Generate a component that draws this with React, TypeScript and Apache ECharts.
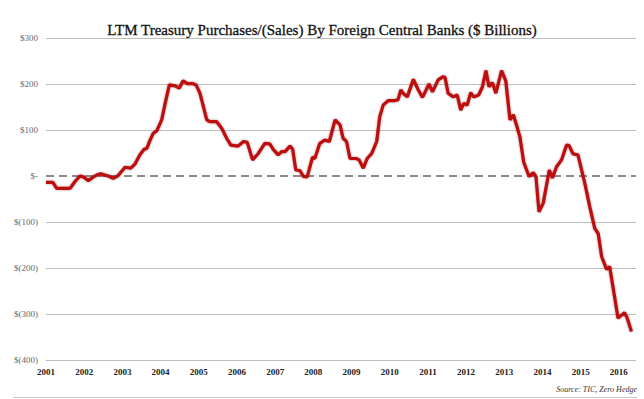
import React, { useEffect, useRef } from "react";
import * as echarts from "echarts";

const titleText = "LTM Treasury Purchases/(Sales) By Foreign Central Banks ($ Billions)";
const sourceText = "Source: TIC, Zero Hedge";

// decimal-year positions of the readings
const dates = [
  2001.0, 2001.18, 2001.28, 2001.45, 2001.63, 2001.76, 2001.89, 2001.98,
  2002.11, 2002.24, 2002.33, 2002.43, 2002.54, 2002.63, 2002.76, 2002.89,
  2003.07, 2003.22, 2003.33, 2003.46, 2003.57, 2003.64, 2003.72, 2003.81, 2003.9,
  2004.03, 2004.12, 2004.23, 2004.38, 2004.49, 2004.59, 2004.7, 2004.84, 2004.93,
  2005.03, 2005.1, 2005.21, 2005.29, 2005.47, 2005.6, 2005.73, 2005.84,
  2006.03, 2006.17, 2006.27, 2006.41, 2006.56, 2006.73, 2006.86, 2006.95,
  2007.08, 2007.17, 2007.26, 2007.39, 2007.46, 2007.54, 2007.65, 2007.74, 2007.84, 2007.98,
  2008.04, 2008.17, 2008.3, 2008.42, 2008.57, 2008.7, 2008.78, 2008.87, 2008.96,
  2009.12, 2009.2, 2009.31, 2009.41, 2009.53, 2009.66, 2009.74, 2009.83, 2009.96,
  2010.14, 2010.22, 2010.29, 2010.35, 2010.46, 2010.62, 2010.75, 2010.86,
  2011.03, 2011.12, 2011.27, 2011.4, 2011.45, 2011.53, 2011.66, 2011.77, 2011.86, 2011.94,
  2012.03, 2012.12, 2012.2, 2012.33, 2012.43, 2012.52, 2012.6, 2012.69, 2012.78, 2012.93,
  2013.04, 2013.15, 2013.24, 2013.32, 2013.41, 2013.51, 2013.65, 2013.76, 2013.83, 2013.91,
  2014.02, 2014.18, 2014.26, 2014.37, 2014.5, 2014.63, 2014.7, 2014.8, 2014.93,
  2015.11, 2015.24, 2015.37, 2015.46, 2015.55, 2015.68, 2015.76, 2015.98,
  2016.15, 2016.22, 2016.33,
];

// LTM purchases/(sales), $ billions
const values = [
  -14, -14, -27, -27, -27, -12, 0, -2,
  -10, -2, 2, 5, 2, 0, -5, 1,
  19, 17, 26, 46, 58, 60, 77, 93, 98,
  122, 158, 198, 196, 191, 207, 201, 201, 198,
  180, 158, 122, 118, 118, 104, 82, 67,
  65, 75, 73, 35, 49, 71, 70, 58,
  46, 53, 53, 65, 58, 13, 12, -1, -2, 41,
  38, 71, 78, 75, 122, 111, 82, 75, 38,
  38, 35, 17, 38, 49, 75, 129, 154, 164,
  164, 166, 187, 180, 172, 210, 187, 171,
  200, 183, 209, 216, 214, 180, 172, 176, 143, 158,
  154, 181, 172, 176, 194, 229, 194, 203, 180, 229,
  207, 122, 133, 111, 85, 30, -1, 7, -1, -78,
  -59, 13, -4, 20, 35, 67, 66, 48, 46,
  -16, -67, -114, -125, -175, -203, -197, -309,
  -297, -309, -338,
];

const yMin = -400;
const yMax = 300;
const yStep = 100;
const xMin = 2001;
const xMax = 2016.45;

function fmtY(v: number): string {
  if (v === 0) return "$-";
  if (v < 0) return "$(" + Math.abs(v) + ")";
  return "$" + v;
}

export default function App() {
  const ref = useRef<HTMLDivElement>(null);
  useEffect(() => {
    if (!ref.current) return;
    const chart = echarts.init(ref.current, null, { renderer: "svg" });
    const serif = "'Liberation Serif', 'DejaVu Serif', serif";
    const gridColors: string[] = [];
    for (let v = yMin; v <= yMax; v += yStep) gridColors.push(v === 0 ? "rgba(0,0,0,0)" : "#bdbdbd");
    chart.setOption({
      animation: false,
      backgroundColor: "#ffffff",
      title: {
        text: titleText,
        left: "center",
        top: 17,
        textStyle: {
          fontFamily: serif,
          fontSize: 15,
          fontWeight: "normal",
          color: "#111",
          textBorderColor: "#111",
          textBorderWidth: 0.3,
        },
      },
      grid: { left: 46, right: 8, top: 38, bottom: 39, containLabel: false },
      xAxis: {
        type: "value",
        min: xMin,
        max: xMax,
        interval: 1,
        axisLine: { show: false },
        axisTick: { show: false },
        splitLine: { show: false },
        axisLabel: {
          margin: 7,
          fontFamily: serif,
          fontSize: 9,
          fontWeight: "bold",
          color: "#222",
          formatter: (v: number) => (Number.isInteger(v) ? String(v) : ""),
        },
      },
      yAxis: {
        type: "value",
        min: yMin,
        max: yMax,
        interval: yStep,
        axisLine: { show: false },
        axisTick: { show: false },
        axisLabel: { margin: 8, fontFamily: serif, fontSize: 9, color: "#666", formatter: fmtY },
        splitLine: { show: true, lineStyle: { color: gridColors, width: 1 } },
      },
      series: [
        {
          type: "line",
          data: dates.map((d, i) => [d, values[i]]),
          showSymbol: false,
          symbol: "none",
          lineStyle: {
            color: "#bd0a10",
            width: 3.2,
            shadowColor: "rgba(90,0,0,0.45)",
            shadowBlur: 2,
          },
          markLine: {
            silent: true,
            symbol: "none",
            label: { show: false },
            lineStyle: { color: "#666", width: 1.5, type: [8, 5] },
            data: [{ yAxis: 0 }],
            z: 1,
          },
          z: 3,
        },
      ],
      graphic: [
        {
          type: "text",
          right: 7,
          top: 385,
          style: {
            text: sourceText,
            font: "italic 8px " + serif,
            fill: "#333",
          },
        },
        {
          type: "line",
          shape: { x1: 13, y1: 397.5, x2: 637, y2: 397.5 },
          style: { stroke: "#c8c8c8", lineWidth: 1 },
        },
      ],
    });
    return () => chart.dispose();
  }, []);
  return (
    <div
      ref={ref}
      style={{ position: "fixed", left: 0, top: 0, width: 644, height: 399 }}
    />
  );
}
